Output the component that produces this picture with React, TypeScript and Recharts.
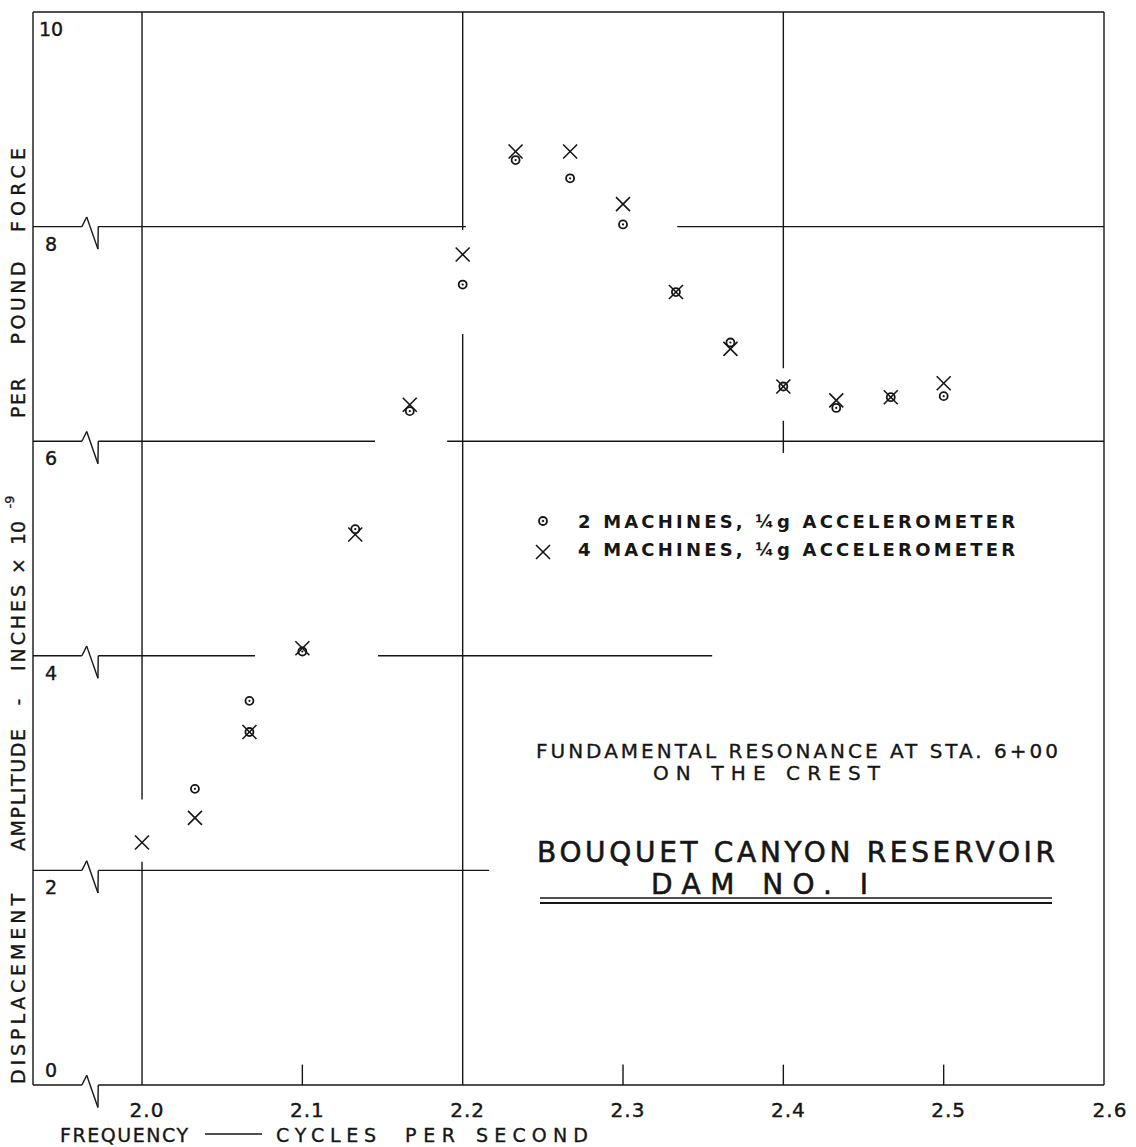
import { ScatterChart, Scatter, XAxis, YAxis, ReferenceLine, Customized } from 'recharts';

// frequency (cps) and amplitude
const freq2 = [2.033, 2.067, 2.067, 2.1, 2.133, 2.167, 2.2, 2.233, 2.267, 2.3, 2.333, 2.367, 2.4, 2.433, 2.467, 2.5];
const amp2 = [2.76, 3.58, 3.29, 4.04, 5.18, 6.28, 7.46, 8.62, 8.45, 8.02, 7.39, 6.92, 6.51, 6.31, 6.41, 6.42];
const freq4 = [2.0, 2.033, 2.067, 2.1, 2.133, 2.167, 2.2, 2.233, 2.267, 2.3, 2.333, 2.367, 2.4, 2.433, 2.467, 2.5];
const amp4 = [2.26, 2.49, 3.29, 4.07, 5.13, 6.34, 7.74, 8.7, 8.7, 8.21, 7.39, 6.86, 6.51, 6.38, 6.41, 6.54];

const xTicks = [2.0, 2.1, 2.2, 2.3, 2.4, 2.5, 2.6];
const yTicks = [0, 2, 4, 6, 8, 10];
const series2Name = '2 MACHINES, \u00BCg ACCELEROMETER';
const series4Name = '4 MACHINES, \u00BCg ACCELEROMETER';

const data2 = freq2.map((x, i) => ({ x, y: amp2[i] }));
const data4 = freq4.map((x, i) => ({ x, y: amp4[i] }));

const X0 = 1.932;
const X1 = 2.6;
const INK = '#161616';
const FONT = "'DejaVu Sans', sans-serif";

type Seg = [number, number, number, number];

// the little "axis broken" zigzag drawn on each horizontal rule
function breakMark(y: number): Seg[] {
  return [
    [X0, y, 1.9625, y],
    [1.9625, y, 1.9655, y + 0.09],
    [1.9655, y + 0.09, 1.9725, y - 0.21],
    [1.9725, y - 0.21, 1.9727, y],
  ];
}

// hand-drafted rules, interrupted around points and lettering
const rules: Seg[] = [
  [X0, 0, X0, 10],
  [X0, 10, X1, 10],
  [X1, 0, X1, 10],
  ...breakMark(0),
  [1.9727, 0, X1, 0],
  ...breakMark(2),
  [1.9727, 2, 2.2165, 2],
  ...breakMark(4),
  [1.9727, 4, 2.0705, 4],
  [2.1472, 4, 2.3556, 4],
  ...breakMark(6),
  [1.9727, 6, 2.1453, 6],
  [2.1903, 6, X1, 6],
  ...breakMark(8),
  [1.9727, 8, 2.202, 8],
  [2.3338, 8, X1, 8],
  [2.0, 10, 2.0, 2.66],
  [2.0, 2.08, 2.0, 0],
  [2.2, 10, 2.2, 7.97],
  [2.2, 7.0, 2.2, 0],
  [2.4, 10, 2.4, 6.68],
  [2.4, 6.19, 2.4, 5.89],
  [2.1, 0, 2.1, 0.19],
  [2.3, 0, 2.3, 0.19],
  [2.4, 0, 2.4, 0.19],
  [2.5, 0, 2.5, 0.19],
];

const RingDot = (props: any) => {
  const { cx, cy } = props;
  return (
    <g>
      <circle cx={cx} cy={cy} r={4} fill="none" stroke={INK} strokeWidth={1.8} />
      <circle cx={cx} cy={cy} r={1.1} fill={INK} />
    </g>
  );
};

const Cross = (props: any) => {
  const { cx, cy } = props;
  const h = 7;
  return (
    <g stroke={INK} strokeWidth={1.6}>
      <line x1={cx - h} y1={cy - h} x2={cx + h} y2={cy + h} />
      <line x1={cx - h} y1={cy + h} x2={cx + h} y2={cy - h} />
    </g>
  );
};

const XTick = (props: any) => {
  const { x, payload } = props;
  const v = payload.value as number;
  return (
    <text x={x + (v === 2.6 ? 6 : 5)} y={1117} textAnchor="middle" fontSize={20} fontFamily={FONT} fill={INK} stroke={INK} strokeWidth={0.4} letterSpacing={1}>
      {v.toFixed(1)}
    </text>
  );
};

const YTick = (props: any) => {
  const { y, payload } = props;
  const v = payload.value as number;
  return (
    <text x={51} y={v === 0 ? y - 8 : y + 24} textAnchor="middle" fontSize={19} fontFamily={FONT} fill={INK} stroke={INK} strokeWidth={0.4}>
      {v}
    </text>
  );
};

const yTitle: { t: string; cy: number; len?: number }[] = [
  { t: 'DISPLACEMENT', cy: 989, len: 190 },
  { t: 'AMPLITUDE', cy: 790, len: 122 },
  { t: '-', cy: 702 },
  { t: 'INCHES', cy: 628, len: 86 },
  { t: '\u00D7', cy: 566 },
  { t: '10', cy: 533, len: 24 },
  { t: 'PER', cy: 398, len: 40 },
  { t: 'POUND', cy: 303, len: 83 },
  { t: 'FORCE', cy: 190, len: 84 },
];

const Annotations = () => (
  <g fontFamily={FONT} fill={INK} stroke={INK} strokeWidth={0.35}>
    {yTitle.map((p) => (
      <text
        key={p.t}
        transform={`translate(18, ${p.cy}) rotate(-90)`}
        textAnchor="middle"
        dominantBaseline="central"
        fontSize={19}
        textLength={p.len}
        lengthAdjust={p.len ? 'spacing' : undefined}
      >
        {p.t}
      </text>
    ))}
    <text transform="translate(9, 502) rotate(-90)" textAnchor="middle" dominantBaseline="central" fontSize={13}>
      -9
    </text>

    <text x={60} y={1142} fontSize={19} textLength={128} lengthAdjust="spacing">FREQUENCY</text>
    <line x1={205} y1={1134} x2={262} y2={1134} stroke={INK} strokeWidth={1.5} />
    <text x={276} y={1142} fontSize={19} textLength={100} lengthAdjust="spacing">CYCLES</text>
    <text x={405} y={1142} fontSize={19} textLength={50} lengthAdjust="spacing">PER</text>
    <text x={476} y={1142} fontSize={19} textLength={112} lengthAdjust="spacing">SECOND</text>

    <RingDot cx={543} cy={521} />
    <text x={578} y={528} fontSize={18} fontWeight={700} strokeWidth={0} textLength={437} lengthAdjust="spacing">{series2Name}</text>
    <Cross cx={543} cy={552} />
    <text x={578} y={556} fontSize={18} fontWeight={700} strokeWidth={0} textLength={437} lengthAdjust="spacing">{series4Name}</text>

    <text x={536} y={758} fontSize={20} textLength={522} lengthAdjust="spacing">FUNDAMENTAL RESONANCE AT STA. 6+00</text>
    <text x={653} y={780} fontSize={20} textLength={227} lengthAdjust="spacing">ON THE CREST</text>
    <text x={537} y={862} fontSize={28} strokeWidth={0.6} textLength={518} lengthAdjust="spacing">BOUQUET CANYON RESERVOIR</text>
    <text x={651} y={894} fontSize={28} strokeWidth={0.6} textLength={217} lengthAdjust="spacing">DAM NO. I</text>
    <line x1={540} y1={898} x2={1052} y2={898} stroke={INK} strokeWidth={1.4} />
    <line x1={540} y1={903} x2={1052} y2={903} stroke={INK} strokeWidth={2} />
  </g>
);

export default function App() {
  return (
    <div style={{ position: 'absolute', left: 0, top: 0, background: '#fff' }}>
      <ScatterChart width={1136} height={1147} margin={{ top: 12, right: 32, bottom: 0, left: 33 }}>
        <XAxis
          dataKey="x"
          type="number"
          domain={[X0, X1]}
          ticks={xTicks}
          interval={0}
          allowDataOverflow
          axisLine={false}
          tickLine={false}
          height={62}
          tick={XTick}
        />
        <YAxis
          dataKey="y"
          type="number"
          domain={[0, 10]}
          ticks={yTicks}
          interval={0}
          allowDataOverflow
          mirror
          axisLine={false}
          tickLine={false}
          tick={YTick}
        />
        {rules.map(([x1, y1, x2, y2], i) => (
          <ReferenceLine
            key={i}
            segment={[{ x: x1, y: y1 }, { x: x2, y: y2 }]}
            stroke={INK}
            strokeWidth={1.4}
            ifOverflow="visible"
          />
        ))}
        <Scatter name={series4Name} data={data4} shape={Cross} isAnimationActive={false} />
        <Scatter name={series2Name} data={data2} shape={RingDot} isAnimationActive={false} />
        <Customized component={Annotations} />
      </ScatterChart>
    </div>
  );
}
